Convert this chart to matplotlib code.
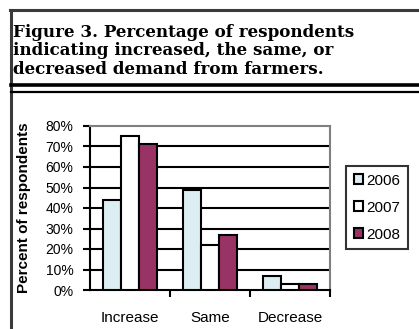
import matplotlib.pyplot as plt
import numpy as np
from matplotlib.lines import Line2D
from matplotlib.patches import Patch

categories = ["Increase", "Same", "Decrease"]
years = ["2006", "2007", "2008"]
pct_2006 = [44, 49, 7]
pct_2007 = [75, 22, 3]
pct_2008 = [71, 27, 3]
colors = ["#dcedf3", "#ffffff", "#993366"]

title = ("Figure 3. Percentage of respondents\n"
         "indicating increased, the same, or\n"
         "decreased demand from farmers.")

W, H = 419, 329
fig = plt.figure(figsize=(W / 100, H / 100), dpi=100)
plt.rcParams['font.family'] = ['Liberation Sans', 'DejaVu Sans']

# outer frame (left and top edges) and the double rule under the caption
fig.add_artist(Line2D([11 / W, 11 / W], [0, 1 - 10 / H], color="#3a3a3a", lw=2.2))
fig.add_artist(Line2D([10 / W, 1], [1 - 10 / H, 1 - 10 / H], color="#3a3a3a", lw=2.2))
fig.add_artist(Line2D([11 / W, 1], [1 - 85.3 / H] * 2, color="black", lw=2.6))
fig.add_artist(Line2D([11 / W, 1], [1 - 92 / H] * 2, color="black", lw=1.6))

fig.text(13 / W, 1 - 24 / H, title, family="DejaVu Serif", weight="bold",
         fontsize=12.1, va="top", ha="left", linespacing=1.1)

ax = fig.add_axes([90 / W, 1 - 290 / H, 240 / W, 164 / H])
x = np.arange(len(categories))
w = 0.225
for i, (vals, c) in enumerate(zip([pct_2006, pct_2007, pct_2008], colors)):
    ax.bar(x + (i - 1) * w, vals, w, color=c, edgecolor="black", lw=1.5, zorder=3)

ax.set_xlim(-0.5, 2.5)
ax.set_ylim(0, 80)
ax.set_yticks(range(0, 81, 10))
ax.set_yticklabels([f"{v}%" for v in range(0, 81, 10)], fontsize=10)
ax.tick_params(axis="y", direction="out", length=5, width=1.5, pad=7)
ax.set_xticks([0.5, 1.5, 2.5])
ax.set_xticklabels([])
ax.set_xticks(x, minor=True)
ax.set_xticklabels(categories, minor=True, fontsize=11)
ax.tick_params(axis="x", which="major", direction="out", length=5, width=1.5)
ax.tick_params(axis="x", which="minor", length=0, pad=15)
for v in range(10, 80, 10):
    ax.axhline(v, color="black", lw=1.5, zorder=1)
ax.spines["left"].set_linewidth(1.5)
ax.spines["bottom"].set_linewidth(1.5)
ax.spines["top"].set_color("#808080")
ax.spines["right"].set_color("#808080")
ax.spines["top"].set_linewidth(1.5)
ax.spines["right"].set_linewidth(1.5)
ax.set_ylabel("Percent of respondents", fontsize=11, weight="bold", labelpad=10)

handles = [Patch(facecolor=c, edgecolor="black", lw=1.5) for c in colors]
leg = fig.legend(handles, years, loc="upper left",
                 bbox_to_anchor=(346 / W, 1 - 166 / H), fontsize=11,
                 frameon=True, fancybox=False, handlelength=0.6, handleheight=0.6,
                 handletextpad=0.2, labelspacing=0.85, borderpad=0.5,
                 borderaxespad=0)
leg.get_frame().set_edgecolor("black")
leg.get_frame().set_linewidth(1.5)

fig.savefig("out.png", dpi=100)
